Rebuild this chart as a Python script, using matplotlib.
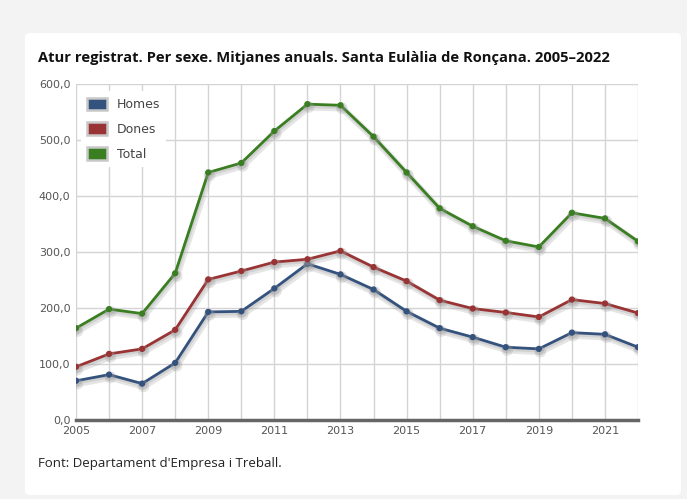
import matplotlib.pyplot as plt
import matplotlib.patheffects as pe
from matplotlib.patches import FancyBboxPatch, Patch
from matplotlib.ticker import FuncFormatter

years = list(range(2005, 2023))
homes = [70, 81, 65, 102, 193, 194, 235, 279, 260, 233, 194, 164, 148, 130, 127, 156, 153, 130]
dones = [95, 118, 127, 161, 251, 266, 282, 287, 302, 273, 248, 214, 199, 192, 184, 215, 208, 191]
total = [164, 198, 190, 262, 442, 459, 516, 564, 562, 506, 442, 378, 346, 320, 309, 370, 360, 319]

series = [("Homes", homes, "#34527e"), ("Dones", dones, "#9a3333"), ("Total", total, "#3a7e22")]

fig = plt.figure(figsize=(6.87, 4.99), dpi=100)
fig.patch.set_facecolor("#f3f3f3")

# white card behind the chart
card = FancyBboxPatch((25 / 687, 4 / 499), 656 / 687, 462 / 499,
                      boxstyle="round,pad=0,rounding_size=0.008",
                      transform=fig.transFigure, facecolor="white", edgecolor="none", zorder=-5)
fig.patches.append(card)

ax = fig.add_axes([76 / 687, 79 / 499, 562 / 687, 336 / 499])
ax.set_zorder(2)
ax.set_facecolor("white")

shadow = [pe.SimpleLineShadow(offset=(1, -2), shadow_color="#999999", alpha=0.25, linewidth=5),
          pe.SimpleLineShadow(offset=(0.5, -1.2), shadow_color="#999999", alpha=0.25, linewidth=3),
          pe.Normal()]
for name, vals, col in series:
    ax.plot(years, vals, color=col, lw=2, marker="o", ms=3.5, label=name,
            path_effects=shadow, zorder=3)

ax.set_xlim(2005, 2022)
ax.set_ylim(0, 600)
ax.set_xticks(years)
ax.set_xticklabels([str(y) if (y - 2005) % 2 == 0 else "" for y in years])
ax.set_yticks(range(0, 601, 100))
ax.yaxis.set_major_formatter(FuncFormatter(lambda v, p: f"{v:.1f}".replace(".", ",")))
ax.grid(True, color="#d4d4d4", lw=1)
ax.set_axisbelow(True)
for s in ["top", "right", "left"]:
    ax.spines[s].set_visible(False)
ax.spines["bottom"].set_color("#666666")
ax.spines["bottom"].set_linewidth(2.5)
ax.tick_params(length=0, labelsize=8, labelcolor="#555555", pad=4)

# square swatches in the legend
handles = [Patch(facecolor=c, edgecolor="#c8c8c8", lw=1.8, label=n) for n, _, c in series]
ax.legend(handles=handles, loc="upper left", bbox_to_anchor=(0.0, 0.993), frameon=True,
          fontsize=9, handlelength=1.6, handleheight=1.2, labelcolor="#444444",
          borderpad=0.5, borderaxespad=0.4, labelspacing=0.9, handletextpad=0.75, fancybox=False,
          facecolor="white", edgecolor="none", framealpha=1)

fig.text(38 / 687, 1 - 58 / 499, "Atur registrat. Per sexe. Mitjanes anuals. Santa Eulàlia de Rončana. 2005–2022".replace("č", "ç"),
         fontsize=10.6, fontweight="bold", family="Open Sans", va="center", color="#111111")
fig.text(38 / 687, 1 - 463 / 499, "Font: Departament d'Empresa i Treball.",
         fontsize=9.5, family="Open Sans", va="center", color="#222222")

fig.savefig("out.png", dpi=100, facecolor=fig.get_facecolor())
